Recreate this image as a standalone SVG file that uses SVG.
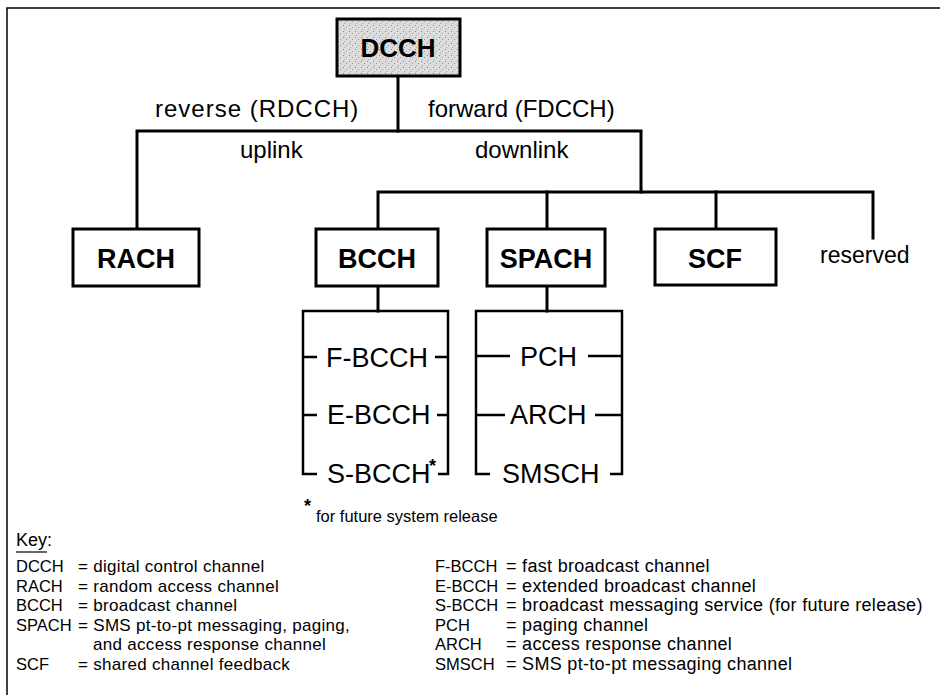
<svg xmlns="http://www.w3.org/2000/svg" width="940" height="695" viewBox="0 0 940 695">
<defs>
<pattern id="stip" width="6" height="6" patternUnits="userSpaceOnUse">
<rect width="6" height="6" fill="#dcdcdc"/>
<rect x="1" y="1" width="1" height="1" fill="#888"/>
<rect x="4" y="3" width="1" height="1" fill="#999"/>
<rect x="2" y="5" width="1" height="1" fill="#aaa"/>
</pattern>
</defs>
<style>
.ln{stroke:#000;stroke-width:3;fill:none;stroke-linecap:square}
.br{stroke:#000;stroke-width:2.5;fill:none}
.box{fill:#fff;stroke:#000;stroke-width:3}
.t{font-family:"Liberation Sans",Arial,sans-serif;fill:#000}
.bl{font-size:27px;font-weight:bold;text-anchor:middle}
.lb{font-size:24px}
.sub{font-size:27px}
.k{font-size:16.5px}
.kd{font-size:17px;letter-spacing:0.3px}
.kr{font-size:18px;letter-spacing:0.3px}
</style>
<rect width="940" height="695" fill="#fff"/>
<path d="M7,695 V8 H940" stroke="#000" stroke-width="1.5" fill="none"/>
<g id="connectors">
<path class="ln" d="M398,76 V131"/>
<path class="ln" d="M137,229 V131 H641 V192"/>
<path class="ln" d="M378,229 V192 H873 V238"/>
<path class="ln" d="M547,192 V229"/>
<path class="ln" d="M716,192 V229"/>
<path class="ln" d="M378,286 V311"/>
<path class="ln" d="M547,286 V311"/>
<path class="br" d="M317,474 H303 V311 H448 V474 H438"/>
<path class="br" d="M303,357 H317 M435,357 H448 M303,415 H317 M437,415 H448"/>
<path class="br" d="M490,474 H476 V311 H622 V474 H610"/>
<path class="br" d="M476,356 H510 M588,356 H622 M476,415 H505 M595,415 H622"/>
</g>
<g id="labels">
<text class="t lb" x="155" y="117" letter-spacing="1">reverse (RDCCH)</text>
<text class="t lb" x="428" y="117">forward (FDCCH)</text>
<text class="t lb" x="240" y="158">uplink</text>
<text class="t lb" x="475" y="158">downlink</text>
</g>
<g id="DCCH">
<rect x="337" y="19" width="123" height="57" fill="url(#stip)" stroke="#000" stroke-width="3"/>
<text class="t" x="398" y="57" font-size="26" font-weight="bold" text-anchor="middle">DCCH</text>
</g>
<g id="RACH">
<rect class="box" x="73" y="229" width="126" height="57"/>
<text class="t bl" x="136" y="268">RACH</text>
</g>
<g id="BCCH">
<rect class="box" x="316" y="229" width="122" height="57"/>
<text class="t bl" x="377" y="268">BCCH</text>
</g>
<g id="SPACH">
<rect class="box" x="487" y="229" width="118" height="57"/>
<text class="t bl" x="546" y="268">SPACH</text>
</g>
<g id="SCF">
<rect class="box" x="655" y="229" width="121" height="56"/>
<text class="t bl" x="715" y="268">SCF</text>
</g>
<g id="reserved">
<text class="t" x="820" y="263" font-size="23">reserved</text>
</g>
<g id="F-BCCH"><text class="t sub" x="326" y="367">F-BCCH</text></g>
<g id="E-BCCH"><text class="t sub" x="327" y="424">E-BCCH</text></g>
<g id="S-BCCH"><text class="t sub" x="327" y="483">S-BCCH</text><text class="t" x="429" y="472" font-size="18" font-weight="bold">*</text></g>
<g id="PCH"><text class="t sub" x="520" y="366">PCH</text></g>
<g id="ARCH"><text class="t sub" x="510" y="424">ARCH</text></g>
<g id="SMSCH"><text class="t sub" x="502" y="483">SMSCH</text></g>
<g id="footnote">
<text class="t" x="304" y="512" font-size="18" font-weight="bold">*</text>
<text class="t k" x="316" y="522">for future system release</text>
</g>
<g id="key">
<text class="t" x="16" y="546" font-size="18">Key:</text>
<path d="M16,552 H47" stroke="#000" stroke-width="1.2"/>
<text class="t k" x="16" y="572">DCCH</text><text class="t kd" x="78" y="572">= digital control channel</text>
<text class="t k" x="16" y="591.5">RACH</text><text class="t kd" x="78" y="591.5">= random access channel</text>
<text class="t k" x="16" y="611">BCCH</text><text class="t kd" x="78" y="611">= broadcast channel</text>
<text class="t k" x="16" y="630.5">SPACH</text><text class="t kd" x="78" y="630.5">= SMS pt-to-pt messaging, paging,</text>
<text class="t kd" x="93" y="650">and access response channel</text>
<text class="t k" x="16" y="669.5">SCF</text><text class="t kd" x="78" y="669.5">= shared channel feedback</text>
<text class="t k" x="435" y="572">F-BCCH</text><text class="t kr" x="506" y="572">= fast broadcast channel</text>
<text class="t k" x="435" y="591.5">E-BCCH</text><text class="t kr" x="506" y="591.5">= extended broadcast channel</text>
<text class="t k" x="435" y="611">S-BCCH</text><text class="t kr" x="506" y="611">= broadcast messaging service (for future release)</text>
<text class="t k" x="435" y="630.5">PCH</text><text class="t kr" x="506" y="630.5">= paging channel</text>
<text class="t k" x="435" y="650">ARCH</text><text class="t kr" x="506" y="650">= access response channel</text>
<text class="t k" x="435" y="669.5">SMSCH</text><text class="t kr" x="506" y="669.5">= SMS pt-to-pt messaging channel</text>
</g>
</svg>
